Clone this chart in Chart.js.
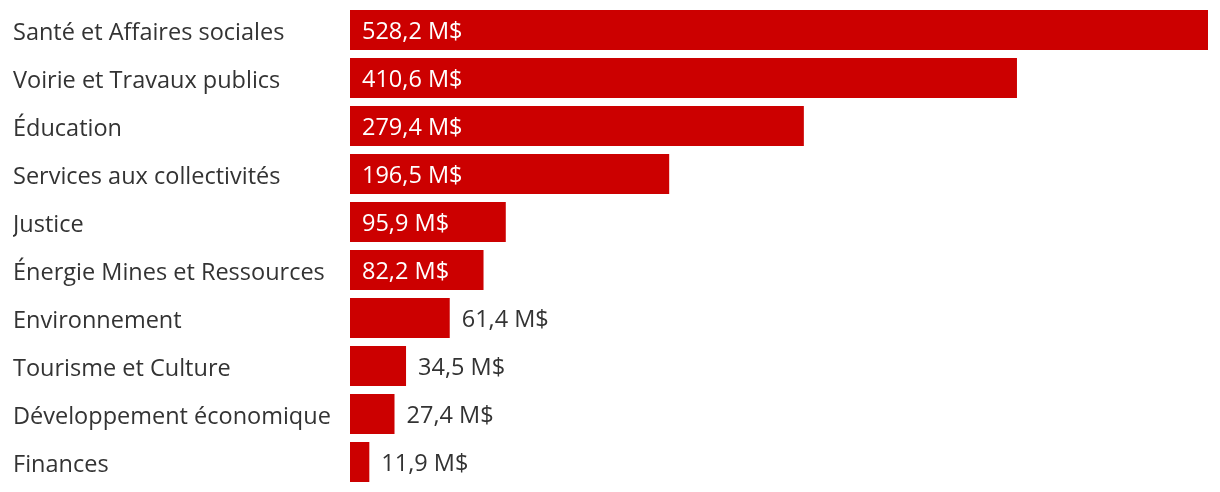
<!DOCTYPE html>
<html>
<head>
<meta charset="utf-8">
<script src="https://cdn.jsdelivr.net/npm/chart.js@4"></script>
<style>
  html, body { margin: 0; padding: 0; background: #fff; }
  #wrap { width: 1220px; height: 492px; }
</style>
</head>
<body>
<div id="wrap"><canvas id="budgetChart"></canvas></div>
<script>
    const categories = [
        "Santé et Affaires sociales",
        "Voirie et Travaux publics",
        "Éducation",
        "Services aux collectivités",
        "Justice",
        "Énergie Mines et Ressources",
        "Environnement",
        "Tourisme et Culture",
        "Développement économique",
        "Finances"
    ];
    const amounts = [528.2, 410.6, 279.4, 196.5, 95.9, 82.2, 61.4, 34.5, 27.4, 11.9];
    const insideMin = 80;

    const FONT = "'Open Sans', sans-serif";

    function fmt(v) {
        return v.toFixed(1).replace(".", ",") + " M$";
    }

    // value text: white inside the wide bars, grey after the short ones
    const valueLabels = {
        id: "valueLabels",
        afterDatasetsDraw(chart) {
            const c = chart.ctx;
            const meta = chart.getDatasetMeta(0);
            c.save();
            c.font = "23.5px " + FONT;
            c.textBaseline = "middle";
            c.textAlign = "left";
            meta.data.forEach(function(bar, i) {
                let v = amounts[i];
                if (v >= insideMin) {
                    c.fillStyle = "#ffffff";
                    c.fillText(fmt(v), bar.base + 12, bar.y + 2);
                } else {
                    c.fillStyle = "#333333";
                    c.fillText(fmt(v), bar.x + 12, bar.y + 2);
                }
            });
            c.restore();
        }
    };

    const chart = new Chart(document.getElementById("budgetChart"), {
        type: "bar",
        data: {
            labels: categories,
            datasets: [{
                data: amounts,
                backgroundColor: "#cc0000",
                barPercentage: 40 / 48,
                categoryPercentage: 1
            }]
        },
        options: {
            indexAxis: "y",
            responsive: true,
            maintainAspectRatio: false,
            animation: false,
            layout: { padding: { left: 13, right: 12, top: 6, bottom: 6 } },
            plugins: { legend: { display: false }, tooltip: { enabled: false } },
            scales: {
                x: {
                    min: 0,
                    max: 528.2,
                    display: false
                },
                y: {
                    grid: { display: false },
                    border: { display: false },
                    afterFit: function(s) {
                        s.width = 337;
                        s.paddingTop = 0;
                        s.paddingBottom = 0;
                    },
                    ticks: {
                        crossAlign: "far",
                        padding: 0,
                        labelOffset: 3,
                        color: "#333333",
                        font: { family: FONT, size: 23.5 }
                    }
                }
            }
        },
        plugins: [valueLabels]
    });
</script>
</body>
</html>
